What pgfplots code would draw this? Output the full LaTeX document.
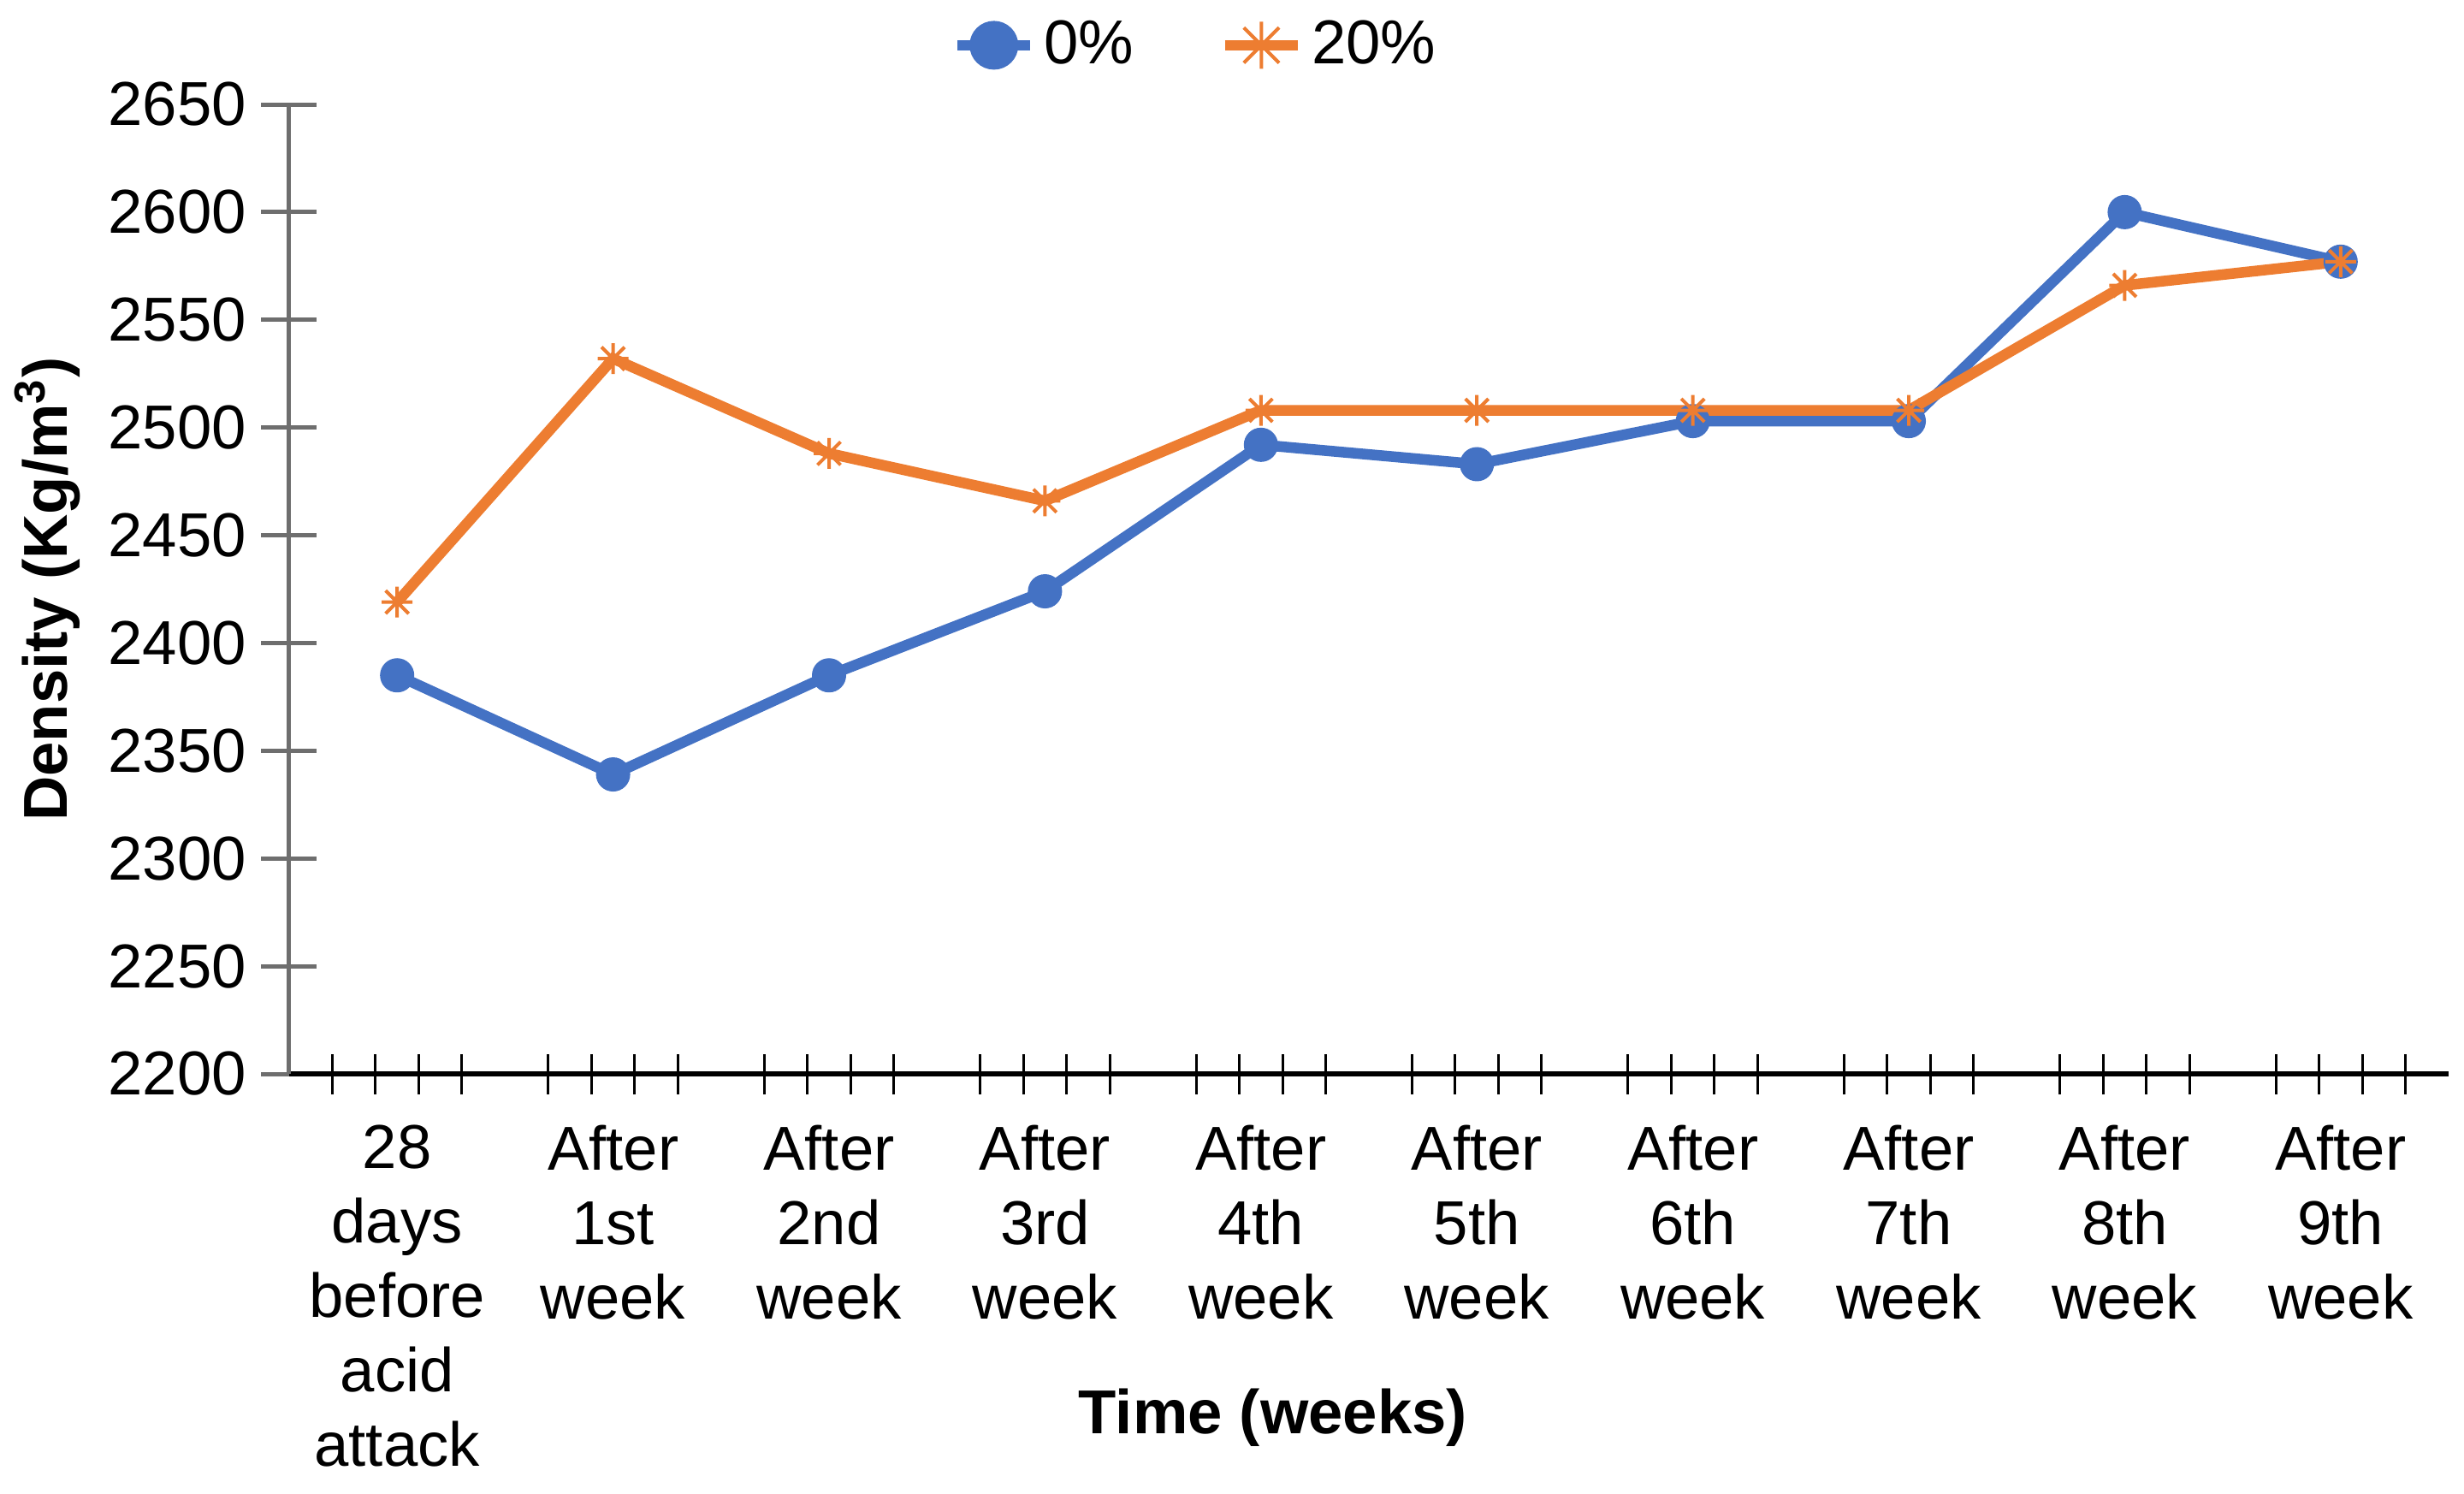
\documentclass[border=0pt]{standalone}
\usepackage{fontspec}
\setmainfont{Liberation Sans}
\usepackage{pgfplots}
\pgfplotsset{compat=1.18}

\definecolor{serblue}{HTML}{4472C4}
\definecolor{serorange}{HTML}{ED7D31}
\definecolor{axgray}{HTML}{6E6E6E}

% excel-like star: vertical bar, horizontal bar and an X
\pgfdeclareplotmark{xlstar}{%
  \pgfpathmoveto{\pgfqpoint{0pt}{\pgfplotmarksize}}%
  \pgfpathlineto{\pgfqpoint{0pt}{-\pgfplotmarksize}}%
  \pgfpathmoveto{\pgfqpoint{\pgfplotmarksize}{0pt}}%
  \pgfpathlineto{\pgfqpoint{-\pgfplotmarksize}{0pt}}%
  \pgfpathmoveto{\pgfqpoint{0.75\pgfplotmarksize}{0.75\pgfplotmarksize}}%
  \pgfpathlineto{\pgfqpoint{-0.75\pgfplotmarksize}{-0.75\pgfplotmarksize}}%
  \pgfpathmoveto{\pgfqpoint{-0.75\pgfplotmarksize}{0.75\pgfplotmarksize}}%
  \pgfpathlineto{\pgfqpoint{0.75\pgfplotmarksize}{-0.75\pgfplotmarksize}}%
  \pgfusepathqstroke}

\newcommand{\chartfont}{\fontsize{14.5}{17.4}\selectfont}

\begin{document}
\begin{tikzpicture}
\path[use as bounding box] (-67.6pt,-98pt) rectangle (508.4pt,251pt);
\begin{axis}[
  scale only axis,
  width=504.8pt, height=226.6pt,
  xmin=-0.5, xmax=9.5,
  ymin=2200, ymax=2650,
  ytick={2200,2250,2300,2350,2400,2450,2500,2550,2600,2650},
  xtick={0,1,2,3,4,5,6,7,8,9},
  xticklabels={28\\days\\before\\acid\\attack, After\\1st\\week, After\\2nd\\week,
    After\\3rd\\week, After\\4th\\week, After\\5th\\week, After\\6th\\week,
    After\\7th\\week, After\\8th\\week, After\\9th\\week},
  minor xtick={-0.3,-0.1,0.1,0.3, 0.7,0.9,1.1,1.3, 1.7,1.9,2.1,2.3, 2.7,2.9,3.1,3.3,
    3.7,3.9,4.1,4.3, 4.7,4.9,5.1,5.3, 5.7,5.9,6.1,6.3, 6.7,6.9,7.1,7.3,
    7.7,7.9,8.1,8.3, 8.7,8.9,9.1,9.3},
  axis x line*=bottom, axis y line*=left,
  x axis line style={black, line width=1.2pt, -},
  y axis line style={axgray, line width=1pt, -},
  xtick align=center, ytick align=center,
  major x tick style={draw=none},
  minor x tick style={black, line width=0.6pt},
  minor tick length=9.4pt,
  ytick style={axgray, line width=1pt},
  major tick length=13pt,
  ticklabel style={font=\chartfont},
  /pgf/number format/assume math mode=true,
  /pgf/number format/1000 sep={},
  xticklabel style={align=center, anchor=north, yshift=-2pt},
  yticklabel style={anchor=east},
  xlabel={\bfseries Time (weeks)},
  ylabel={\bfseries Density (Kg/m\textsuperscript{3})},
  label style={font=\chartfont},
  xlabel style={at={(axis description cs:0.4556,-0.355)}, anchor=center},
  ylabel style={at={(axis description cs:-0.112,0.5)}, anchor=center},
  legend columns=2,
  legend style={draw=none, fill=none, font=\chartfont,
    at={(axis description cs:0.421,1.061)}, anchor=center,
    /tikz/every even column/.append style={column sep=18pt}},
  legend image post style={mark size=5.5pt},
]
\addplot[serblue, line width=2.5pt, mark=*, mark size=3.8pt,
  mark options={fill=serblue, draw=serblue, line width=0.4pt}]
  coordinates {(0,2385) (1,2339) (2,2385) (3,2424) (4,2492)
               (5,2483) (6,2503) (7,2503) (8,2600) (9,2577)};
\addlegendentry{0\%}
\addplot[serorange, line width=2.5pt, mark=xlstar, mark size=3.6pt,
  mark options={line width=0.8pt}]
  coordinates {(0,2419) (1,2532) (2,2488) (3,2466) (4,2508)
               (5,2508) (6,2508) (7,2508) (8,2566) (9,2577)};
\addlegendentry{20\%}
\end{axis}
\end{tikzpicture}
\end{document}
